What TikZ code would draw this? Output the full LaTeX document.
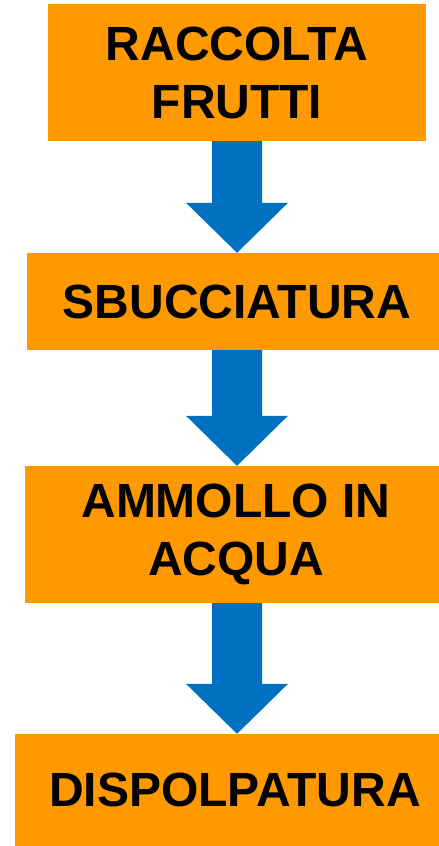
\documentclass[tikz,border=0pt]{standalone}
\usepackage{fontspec}
\setmainfont{Liberation Sans}
\usepackage{tikz}
\usetikzlibrary{positioning, calc}

\definecolor{boxorange}{RGB}{255,153,0}
\definecolor{arrowblue}{RGB}{0,112,192}

\tikzset{
  stepbox/.style={fill=boxorange, inner sep=0pt, align=center,
    font=\fontsize{48}{58}\selectfont\bfseries},
  flowarrow/.style={fill=arrowblue}
}

% freccia blu fra due blocchi
\newcommand{\bluarrow}[2]{
\fill[flowarrow] ($(axis |- #1.south)+(-25,0)$) -- ($(axis |- #2.north)+(-25,50)$)
  -- ($(axis |- #2.north)+(-51,50)$) -- (axis |- #2.north)
  -- ($(axis |- #2.north)+(51,50)$) -- ($(axis |- #2.north)+(25,50)$)
  -- ($(axis |- #1.south)+(25,0)$) -- cycle;
}

\begin{document}
\begin{tikzpicture}[x=1pt, y=1pt]
\useasboundingbox (0,0) rectangle (439,-846);
\coordinate (axis) at (237,0);

\node[stepbox, minimum width=378pt, minimum height=137pt] (raccolta) at (237,-72.5) {RACCOLTA\\FRUTTI};
\node[stepbox, minimum width=412pt, minimum height=97pt] (sbucciatura) at (233,-301.5) {\hspace*{8pt}SBUCCIATURA};
\node[stepbox, minimum width=414pt, minimum height=137pt] (ammollo) at (232,-534.5) {\hspace*{8pt}AMMOLLO IN\\\hspace*{8pt}ACQUA};
\node[stepbox, minimum width=424pt, minimum height=112pt] (dispolpatura) at (227,-790) {\raisebox{-4pt}{\hspace*{16pt}DISPOLPATURA}};

\bluarrow{raccolta}{sbucciatura}
\bluarrow{sbucciatura}{ammollo}
\bluarrow{ammollo}{dispolpatura}
\end{tikzpicture}
\end{document}
